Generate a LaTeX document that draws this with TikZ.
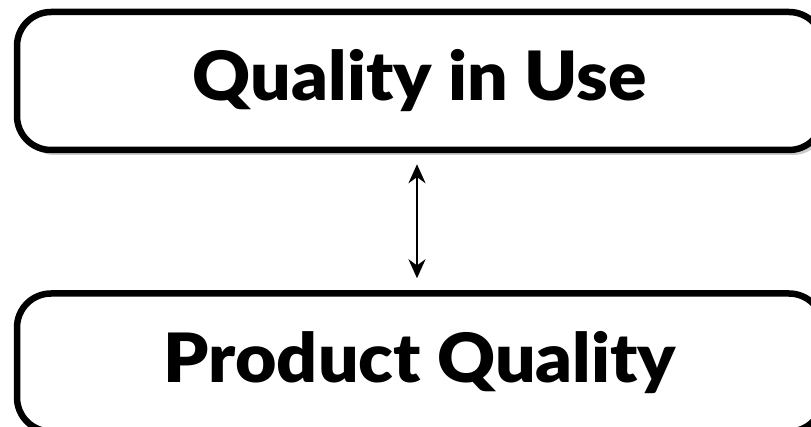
\documentclass[tikz,border=0pt]{standalone}
\usepackage{fontspec}
\setmainfont{Lato}[BoldFont={Lato Black}, BoldFeatures={FakeStretch=1.05}]
\usetikzlibrary{positioning,shadows,arrows.meta}
\tikzset{QualBox/.style = {draw, line width=6.5pt, rounded corners=34pt, fill=white,
  minimum width=806pt, minimum height=138pt,
  font=\fontsize{68}{68}\selectfont\bfseries,
  drop shadow={shadow xshift=4pt, shadow yshift=-5pt, fill=black!40, opacity=.5}}}
\tikzset{LinkStyle/.style = {{Stealth[length=19pt,width=17pt]}-{Stealth[length=19pt,width=17pt]}, line width=2.6pt}}

\begin{document}
\begin{tikzpicture}[x=1pt,y=1pt]
\useasboundingbox (0,0) rectangle (811,426);
\node[QualBox] (use) at (420,345) {Quality in Use};
\node[QualBox, below=137pt of use.south, anchor=north] (product) {Product Quality};
\coordinate (axis) at (417,0);
\draw[LinkStyle, shorten <=11pt, shorten >=12pt] (use.south -| axis) -- (product.north -| axis);
\end{tikzpicture}
\end{document}
